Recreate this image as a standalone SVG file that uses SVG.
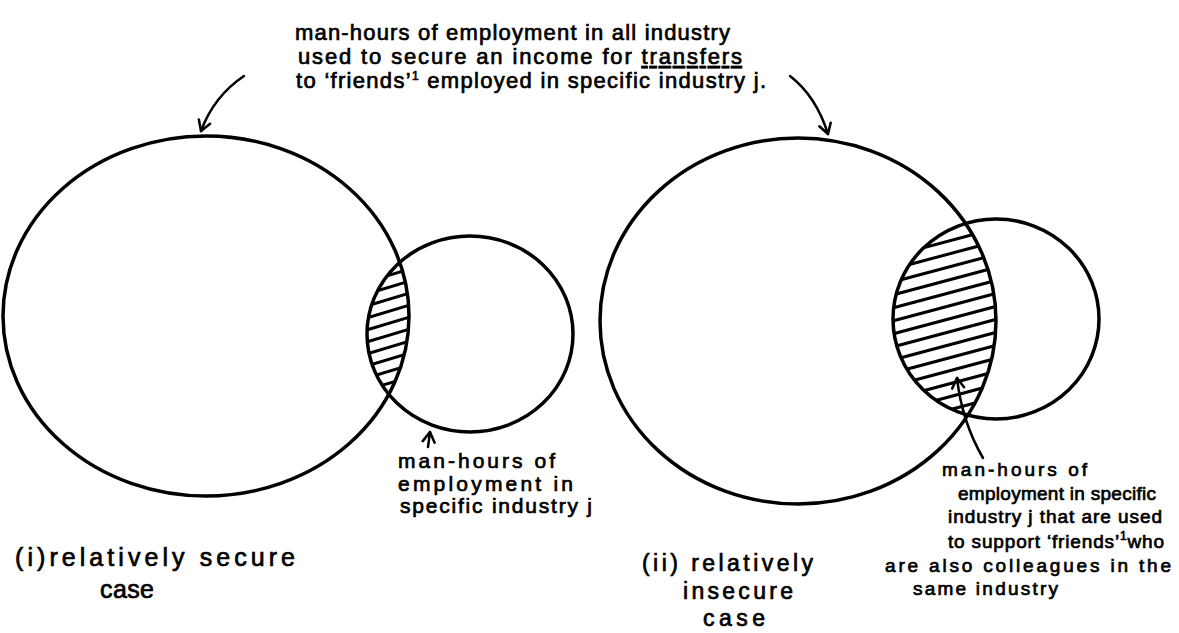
<svg xmlns="http://www.w3.org/2000/svg" width="1179" height="633" viewBox="0 0 1179 633">
<style>
.c{fill:none;stroke:#000;stroke-width:3.5}
.h{fill:none;stroke:#000;stroke-width:3;stroke-linecap:round}
.a{fill:none;stroke:#000;stroke-width:2.5;stroke-linecap:round}
text{font-family:"Liberation Sans","DejaVu Sans",sans-serif;fill:#000;stroke:#000;stroke-width:0.7;font-size:21px}
.t{font-size:22px}
.r{font-size:19px}
.b{font-size:23px}
.bl{font-size:25px}
.u{text-decoration:underline}
.s{font-size:12px}
</style>
<defs>
<marker id="ah" viewBox="-12 -8 14 16" markerWidth="14" markerHeight="16" refX="0" refY="0" orient="auto" markerUnits="userSpaceOnUse">
<path d="M-10,-6 L0,0 L-10,6" fill="none" stroke="#000" stroke-width="2.5" stroke-linecap="round" stroke-linejoin="round"/>
</marker>
<clipPath id="cLB"><ellipse cx="206" cy="316" rx="203" ry="180"/></clipPath>
<clipPath id="cLS"><ellipse cx="470" cy="334" rx="103" ry="98"/></clipPath>
<clipPath id="cRB"><ellipse cx="798" cy="321" rx="198" ry="183"/></clipPath>
<clipPath id="cRS"><ellipse cx="996" cy="319" rx="103" ry="100"/></clipPath>
</defs>

<g id="left-all-industry"><ellipse class="c" cx="206" cy="316" rx="203" ry="180"/></g>
<g id="left-industry-j"><ellipse class="c" cx="470" cy="334" rx="103" ry="98"/></g>
<g id="left-overlap">
<g clip-path="url(#cLB)"><g clip-path="url(#cLS)">
<path class="h" d="M360,272 L420,254 M360,284 L420,266 M360,296 L420,278 M360,308 L420,290 M360,320 L420,302 M360,332 L420,314 M360,344 L420,326 M360,356 L420,338 M360,368 L420,350 M360,380 L420,362 M360,392 L420,374 M360,404 L420,386"/>
</g></g>
</g>

<g id="right-all-industry"><ellipse class="c" cx="798" cy="321" rx="198" ry="183"/></g>
<g id="right-industry-j"><ellipse class="c" cx="996" cy="319" rx="103" ry="100"/></g>
<g id="right-overlap">
<g clip-path="url(#cRB)"><g clip-path="url(#cRS)">
<path class="h" d="M885,245 L1005,213 M885,258 L1005,226 M885,271 L1005,239 M885,284 L1005,252 M885,297 L1005,265 M885,310 L1005,278 M885,323 L1005,291 M885,336 L1005,304 M885,349 L1005,317 M885,362 L1005,330 M885,375 L1005,343 M885,388 L1005,356 M885,401 L1005,369 M885,414 L1005,382 M885,427 L1005,395 M885,440 L1005,408"/>
</g></g>
</g>

<g id="connectors">
<path class="a" d="M244,76 Q214,96 201,131" marker-end="url(#ah)"/>
<path class="a" d="M790,76 Q816,96 828,134" marker-end="url(#ah)"/>
<path class="a" d="M428,447 L430,432" marker-end="url(#ah)"/>
<path class="a" d="M983,458 Q962,422 957,378" marker-end="url(#ah)"/>
</g>

<g id="labels">
<text class="t" x="295" y="40" textLength="435" lengthAdjust="spacing">man-hours of employment in all industry</text>
<text class="t" x="298" y="64" textLength="444" lengthAdjust="spacing">used to secure an income for <tspan class="u">transfers</tspan></text>
<text class="t" x="296" y="88" textLength="470" lengthAdjust="spacing">to ‘friends’<tspan class="s" dy="-8">1</tspan><tspan dy="8"> employed in specific industry j.</tspan></text>

<text x="398" y="468" textLength="157" lengthAdjust="spacing">man-hours of</text>
<text x="398" y="491" textLength="175" lengthAdjust="spacing">employment in</text>
<text x="400" y="513" textLength="192" lengthAdjust="spacing">specific industry j</text>

<text class="r" x="942" y="476" textLength="145" lengthAdjust="spacing">man-hours of</text>
<text class="r" x="958" y="500" textLength="198" lengthAdjust="spacing">employment in specific</text>
<text class="r" x="948" y="523" textLength="214" lengthAdjust="spacing">industry j that are used</text>
<text class="r" x="948" y="548" textLength="216" lengthAdjust="spacing">to support ‘friends’<tspan class="s" dy="-8">1</tspan><tspan dy="8">who</tspan></text>
<text class="r" x="885" y="572" textLength="286" lengthAdjust="spacing">are also colleagues in the</text>
<text class="r" x="913" y="595" textLength="145" lengthAdjust="spacing">same  industry</text>

<text class="bl" x="15" y="566" textLength="280" lengthAdjust="spacing">(i)relatively  secure</text>
<text class="bl" x="100" y="598" textLength="54" lengthAdjust="spacing">case</text>

<text class="b" x="642" y="571" textLength="171" lengthAdjust="spacing">(ii) relatively</text>
<text class="b" x="683" y="599" textLength="110" lengthAdjust="spacing">insecure</text>
<text class="b" x="703" y="626" textLength="62" lengthAdjust="spacing">case</text>
</g>
</svg>
